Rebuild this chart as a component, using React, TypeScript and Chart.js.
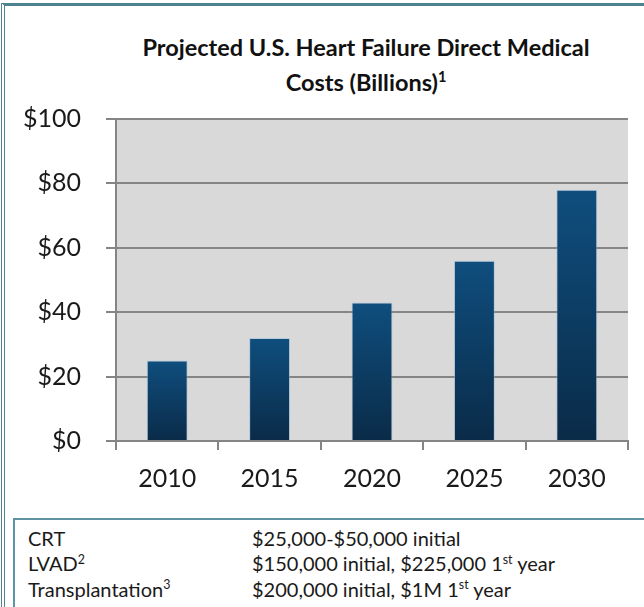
import React, { useEffect, useRef } from "react";
import { Chart, registerables } from "chart.js";

Chart.register(...registerables);

// ---- data ----
const years: string[] = ["2010", "2015", "2020", "2025", "2030"];
const costs: number[] = [25, 32, 43, 56, 78];
const yMin = 0;
const yMax = 100;
const yStep = 20;
const titleLine1 = "Projected U.S. Heart Failure Direct Medical";
const titleLine2 = "Costs (Billions)";
const titleSup = "1";
const tableLabels: string[] = ["CRT", "LVAD", "Transplantation"];
const tableLabelSups: string[] = ["", "2", "3"];
const tableValues: string[] = [
  "$25,000-$50,000 initial",
  "$150,000 initial, $225,000 1st year",
  "$200,000 initial, $1M 1st year",
];

const FONT = "Lato, 'Open Sans', sans-serif";

const supStyle: React.CSSProperties = {
  fontSize: "0.62em",
  position: "relative",
  top: "-0.6em",
  lineHeight: 0,
};

function renderValue(s: string) {
  const parts = s.split("1st");
  const out: React.ReactNode[] = [];
  parts.forEach((p, i) => {
    out.push(<React.Fragment key={"p" + i}>{p}</React.Fragment>);
    if (i < parts.length - 1) {
      out.push(
        <React.Fragment key={"s" + i}>
          1<span style={supStyle}>st</span>
        </React.Fragment>
      );
    }
  });
  return out;
}

const plotBg = {
  id: "plotBg",
  beforeDraw(chart: any) {
    const { ctx, chartArea } = chart;
    if (!chartArea) return;
    ctx.save();
    ctx.fillStyle = "#d9d9d9";
    ctx.fillRect(
      chartArea.left,
      chartArea.top,
      chartArea.right - chartArea.left,
      chartArea.bottom - chartArea.top
    );
    ctx.restore();
  },
};

export default function App() {
  const ref = useRef<HTMLCanvasElement | null>(null);

  useEffect(() => {
    if (!ref.current) return;
    const chart = new Chart(ref.current, {
      type: "bar",
      data: {
        labels: years,
        datasets: [
          {
            data: costs,
            backgroundColor: (c: any) => {
              const chart = c.chart;
              const ca = chart.chartArea;
              if (!ca || c.parsed == null) return "#0f4a78";
              const yScale = chart.scales.y;
              const top = yScale.getPixelForValue(c.parsed.y);
              const bottom = yScale.getPixelForValue(0);
              const g = chart.ctx.createLinearGradient(0, top, 0, bottom);
              g.addColorStop(0, "#0f4e7e");
              g.addColorStop(1, "#0a2b48");
              return g;
            },
            borderColor: "rgba(150,190,225,0.55)",
            borderWidth: 1,
            barPercentage: 0.4,
            categoryPercentage: 1.0,
          },
        ],
      },
      options: {
        animation: false,
        responsive: false,
        devicePixelRatio: 1,
        layout: { padding: { top: 19, right: 16, bottom: 0, left: 0 } },
        plugins: {
          legend: { display: false },
          title: { display: false },
          tooltip: { enabled: false },
        },
        scales: {
          x: {
            offset: true,
            grid: {
              display: true,
              drawOnChartArea: false,
              drawTicks: true,
              tickLength: 9,
              color: "#858585",
              lineWidth: 2,
            },
            border: { display: true, color: "#858585", width: 2 },
            ticks: {
              color: "#1a1a1a",
              padding: 14,
              font: { family: FONT, size: 25 },
              maxRotation: 0,
            },
            afterFit: (s: any) => {
              s.height = 79;
            },
          },
          y: {
            min: yMin,
            max: yMax,
            grid: {
              color: "#858585",
              lineWidth: 2,
              drawTicks: true,
              tickLength: 10,
            },
            border: { display: true, color: "#858585", width: 2 },
            ticks: {
              stepSize: yStep,
              color: "#1a1a1a",
              padding: 25,
              font: { family: FONT, size: 25 },
              callback: (v: any) => "$" + v,
            },
            afterFit: (s: any) => {
              s.width = 116;
              s.paddingTop = 0;
              s.paddingBottom = 0;
            },
          },
        },
      },
      plugins: [plotBg],
    } as any);
    return () => chart.destroy();
  }, []);

  return (
    <div
      style={{
        position: "fixed",
        left: 0,
        top: 0,
        width: 644,
        height: 607,
        overflow: "hidden",
        background: "#ffffff",
        fontFamily: FONT,
        color: "#1a1a1a",
      }}
    >
      {/* outer frame */}
      <div
        style={{
          position: "absolute",
          left: 1,
          top: 3,
          width: 800,
          height: 800,
          borderTop: "3px solid #4f8393",
          borderLeft: "4px double #4f8393",
          boxSizing: "border-box",
        }}
      />
      {/* title */}
      <div
        style={{
          position: "absolute",
          left: 100,
          top: 30,
          width: 532,
          textAlign: "center",
          fontWeight: 700,
          fontSize: 23.5,
          lineHeight: "35px",
          color: "#111",
          whiteSpace: "nowrap",
        }}
      >
        <div>{titleLine1}</div>
        <div>
          {titleLine2}
          <span style={supStyle}>{titleSup}</span>
        </div>
      </div>
      {/* chart */}
      <canvas
        ref={ref}
        width={644}
        height={420}
        style={{ position: "absolute", left: 0, top: 100, width: 644, height: 420 }}
      />
      {/* table box */}
      <div
        style={{
          position: "absolute",
          left: 13,
          top: 518,
          width: 800,
          height: 200,
          borderTop: "2px solid #5f93a3",
          borderLeft: "2px solid #5f93a3",
          boxSizing: "border-box",
          background: "#ffffff",
        }}
      />
      <div
        style={{
          position: "absolute",
          left: 0,
          top: 526,
          width: 644,
          fontSize: 20,
          lineHeight: "25.3px",
        }}
      >
        {tableLabels.map((lab, i) => (
          <div key={lab} style={{ position: "relative", height: 25.3 }}>
            <span style={{ position: "absolute", left: 28, whiteSpace: "nowrap" }}>
              {lab}
              {tableLabelSups[i] ? <span style={supStyle}>{tableLabelSups[i]}</span> : null}
            </span>
            <span style={{ position: "absolute", left: 252, whiteSpace: "nowrap" }}>
              {renderValue(tableValues[i])}
            </span>
          </div>
        ))}
      </div>
    </div>
  );
}
